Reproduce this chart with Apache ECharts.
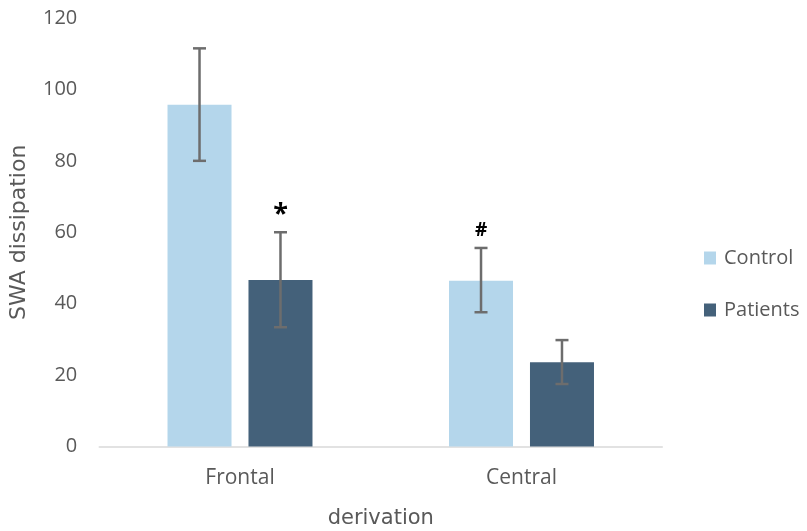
<!DOCTYPE html>
<html>
<head>
<meta charset="utf-8">
<script src="https://cdn.jsdelivr.net/npm/echarts@6/dist/echarts.min.js"></script>
<style>
  html, body { margin: 0; padding: 0; background: #ffffff; }
  #chart { width: 807px; height: 531px; }
</style>
</head>
<body>
<div id="chart"></div>
<script>
// Derivation sites on the x axis
const categories = ['Frontal', 'Central'];
// Mean SWA dissipation per group
const controlValues = [95.7, 46.4];
const patientValues = [46.6, 23.6];
// Error bar limits (low / high) per group
const controlLow = [80.0, 37.6];
const controlHigh = [111.5, 55.6];
const patientLow = [33.4, 17.5];
const patientHigh = [60.0, 29.8];
// Significance marks drawn above each error bar
const controlMarks = ['', '#'];
const patientMarks = ['*', ''];
// Y axis tick range
const yTicks = [0, 20, 40, 60, 80, 100, 120];

const BAR_GAP = '26.5%';
const CATEGORY_GAP = '48.5%';
const FONT = "'Open Sans', 'DejaVu Sans', sans-serif";
const TITLE_FONT = "'DejaVu Sans', 'Open Sans', sans-serif";

function errorSeries(name, low, high, marks, index) {
  const data = categories.map((c, i) => [i, low[i], high[i], marks[i]]);
  return {
    type: 'custom',
    name: name + ' error',
    data: data,
    z: 10,
    silent: true,
    encode: { x: 0, y: [1, 2] },
    renderItem: function (params, api) {
      const layout = api.barLayout({
        barGap: BAR_GAP,
        barCategoryGap: CATEGORY_GAP,
        count: 2
      });
      const cat = api.value(0);
      const lo = api.coord([cat, api.value(1)]);
      const hi = api.coord([cat, api.value(2)]);
      const x = lo[0] + layout[index].offsetCenter;
      const half = 6.5;
      const style = { stroke: '#6d6d6d', lineWidth: 2.5 };
      const children = [
        { type: 'line', shape: { x1: x, y1: hi[1], x2: x, y2: lo[1] }, style: style },
        { type: 'line', shape: { x1: x - half, y1: hi[1], x2: x + half, y2: hi[1] }, style: style },
        { type: 'line', shape: { x1: x - half, y1: lo[1], x2: x + half, y2: lo[1] }, style: style }
      ];
      const mark = data[params.dataIndex][3];
      if (mark) {
        const isStar = mark === '*';
        children.push({
          type: 'text',
          style: {
            text: mark,
            x: x,
            y: hi[1] - (isStar ? 4 : 8),
            align: 'center',
            verticalAlign: 'bottom',
            fill: '#000000',
            font: 'bold ' + (isStar ? 27 : 19) + 'px ' + FONT
          }
        });
      }
      return { type: 'group', children: children };
    }
  };
}

const chart = echarts.init(document.getElementById('chart'), null, { renderer: 'canvas' });
chart.setOption({
  animation: false,
  backgroundColor: '#ffffff',
  textStyle: { fontFamily: FONT },
  grid: {
    left: 99.25, right: 144.75, top: 18, bottom: 84.5,
    containLabel: false,
    outerBoundsMode: 'none'
  },
  legend: {
    orient: 'vertical',
    left: 699,
    top: 243,
    itemWidth: 12,
    itemHeight: 13,
    itemGap: 32,
    icon: 'rect',
    data: ['Control', 'Patients'],
    textStyle: { color: '#595959', fontSize: 20, fontFamily: FONT, padding: [0, 0, 0, 3] }
  },
  xAxis: {
    type: 'category',
    data: categories,
    name: 'derivation',
    nameLocation: 'middle',
    nameGap: 62,
    nameTextStyle: { color: '#595959', fontSize: 21, fontFamily: TITLE_FONT },
    axisLine: { lineStyle: { color: '#d9d9d9', width: 1.5 } },
    axisTick: { show: false },
    axisLabel: { color: '#595959', fontSize: 21, margin: 21, fontFamily: FONT },
    splitLine: { show: false }
  },
  yAxis: {
    type: 'value',
    min: yTicks[0],
    max: yTicks[yTicks.length - 1],
    interval: yTicks[1] - yTicks[0],
    name: 'SWA dissipation',
    nameLocation: 'middle',
    nameGap: 69,
    nameTextStyle: { color: '#595959', fontSize: 22, fontFamily: TITLE_FONT },
    axisLine: { show: false },
    axisTick: { show: false },
    splitLine: { show: false },
    axisLabel: { color: '#595959', fontSize: 20, margin: 22, fontFamily: FONT }
  },
  series: [
    {
      name: 'Control',
      type: 'bar',
      data: controlValues,
      barGap: BAR_GAP,
      barCategoryGap: CATEGORY_GAP,
      itemStyle: { color: '#b4d6eb' }
    },
    {
      name: 'Patients',
      type: 'bar',
      data: patientValues,
      barGap: BAR_GAP,
      barCategoryGap: CATEGORY_GAP,
      itemStyle: { color: '#44617a' }
    },
    errorSeries('Control', controlLow, controlHigh, controlMarks, 0),
    errorSeries('Patients', patientLow, patientHigh, patientMarks, 1)
  ]
});
</script>
</body>
</html>
